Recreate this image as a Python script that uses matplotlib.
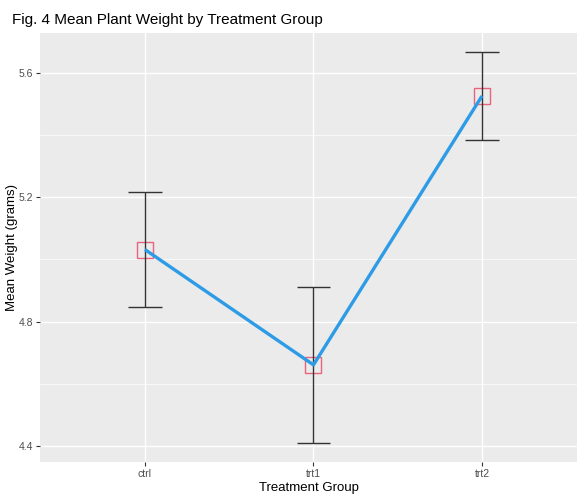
import numpy as np
from matplotlib import pyplot as plt

# PlantGrowth summary: mean and standard error per group
groups = ["ctrl", "trt1", "trt2"]
means = [5.032, 4.661, 5.526]
se = [0.184, 0.251, 0.140]
y_ticks = [4.4, 4.8, 5.2, 5.6]

plt.rcParams['font.family'] = 'sans-serif'
plt.rcParams['font.sans-serif'] = ['Liberation Sans', 'DejaVu Sans']

fig = plt.figure(figsize=(5.77, 4.95), dpi=100)
ax = fig.add_axes([40 / 577, 33 / 495, 537 / 577, 429 / 495])
ax.set_facecolor('#EBEBEB')

x = np.arange(1, len(groups) + 1)
lo = np.array(means) - np.array(se)
hi = np.array(means) + np.array(se)

# grid
for yv in y_ticks:
    ax.axhline(yv, color='white', lw=1.0, zorder=0)
for yv in np.array(y_ticks[:-1]) + 0.2:
    ax.axhline(yv, color='white', lw=0.5, zorder=0)
for xv in x:
    ax.axvline(xv, color='white', lw=1.0, zorder=0)

ax.plot(x, means, marker='s', ms=11, mfc='none', mec='#E8647C', mew=1.0,
        ls='none', zorder=2)
ax.vlines(x, lo, hi, color='#333333', lw=1.0, zorder=3)
ax.hlines(lo, x - 0.1, x + 0.1, color='#333333', lw=1.0, zorder=3)
ax.hlines(hi, x - 0.1, x + 0.1, color='#333333', lw=1.0, zorder=3)
ax.plot(x, means, color='#2E9BE6', lw=2.4, zorder=4, solid_capstyle='butt')

ax.set_xlim(0.377, 3.564)
ax.set_ylim(4.3485, 5.7287)
ax.set_xticks(x)
ax.set_xticklabels(groups)
ax.set_yticks(y_ticks)
ax.set_yticklabels([f"{v:.1f}" for v in y_ticks])
ax.tick_params(axis='both', colors='#333333', labelcolor='#4D4D4D',
               labelsize=7.5, length=3, width=0.8, pad=2)
for s in ax.spines.values():
    s.set_visible(False)

ax.set_xlabel("Treatment Group", fontsize=9.5)
ax.set_ylabel("Mean Weight (grams)", fontsize=9.5)
ax.xaxis.set_label_coords(0.5, -(488 - 462) / 429, transform=ax.transAxes)
ax.xaxis.label.set_va('center')
ax.yaxis.set_label_coords(12 / 577, 0.5)
ax.yaxis.label.set_transform(
    plt.matplotlib.transforms.blended_transform_factory(fig.transFigure, ax.transAxes))
ax.yaxis.label.set_va('center')
fig.text(12 / 577, 1 - 20 / 495, "Fig. 4 Mean Plant Weight by Treatment Group",
         fontsize=11, va='center', ha='left')

fig.savefig("out.png", dpi=100)
